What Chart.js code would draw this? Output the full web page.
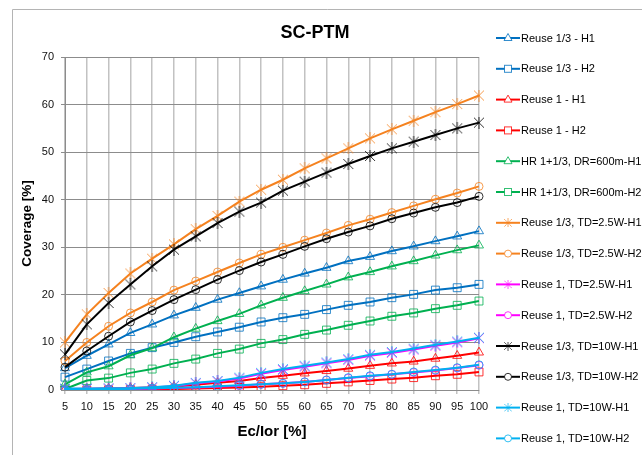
<!DOCTYPE html>
<html>
<head>
<meta charset="utf-8">
<script src="https://cdn.jsdelivr.net/npm/chart.js@4.4.0/dist/chart.umd.min.js"></script>
<style>
html, body { margin: 0; padding: 0; background: #fff; }
#wrap { width: 642px; height: 455px; }
</style>
</head>
<body>
<div id="wrap"><canvas id="myChart" width="642" height="455"></canvas></div>
<script>
// asse x: Ec/Ior [%]
const ecIor = ['5','10','15','20','25','30','35','40','45','50','55','60','65','70','75','80','85','90','95','100'];

// coverage [%]
const reuse13H1 = [4.6, 7.2, 9.6, 12.0, 13.8, 15.7, 17.3, 19.0, 20.4, 21.8, 23.2, 24.5, 25.7, 27.1, 28.0, 29.2, 30.2, 31.3, 32.3, 33.4];
const reuse13H2 = [2.7, 4.4, 6.1, 7.7, 8.9, 10.0, 11.2, 12.2, 13.2, 14.3, 15.2, 15.9, 16.9, 17.8, 18.5, 19.4, 20.1, 21.0, 21.5, 22.2];
const reuse1H1 = [0.1, 0.2, 0.3, 0.4, 0.5, 0.7, 1.1, 1.5, 1.9, 2.5, 3.0, 3.5, 4.0, 4.5, 5.1, 5.6, 6.0, 6.6, 7.2, 7.9];
const reuse1H2 = [0, 0, 0.05, 0.1, 0.15, 0.2, 0.3, 0.4, 0.55, 0.7, 0.9, 1.1, 1.4, 1.7, 2.0, 2.3, 2.6, 3.0, 3.3, 3.8];
const hrH1 = [1.2, 3.7, 5.0, 7.3, 8.8, 11.1, 12.9, 14.5, 16.0, 17.8, 19.4, 20.8, 22.2, 23.7, 24.8, 26.0, 27.1, 28.3, 29.4, 30.4];
const hrH2 = [0.2, 2.0, 2.5, 3.6, 4.4, 5.6, 6.5, 7.7, 8.6, 9.8, 10.6, 11.7, 12.6, 13.6, 14.5, 15.5, 16.2, 17.1, 17.8, 18.7];
const reuse13Td25H1 = [10.0, 15.9, 20.4, 24.5, 27.6, 30.6, 33.8, 36.6, 39.6, 42.1, 44.2, 46.6, 48.7, 50.8, 52.9, 54.8, 56.6, 58.4, 60.1, 61.9];
const reuse13Td25H2 = [6.1, 10.0, 13.4, 16.2, 18.5, 21.0, 22.9, 24.8, 26.7, 28.5, 30.0, 31.5, 33.0, 34.6, 35.9, 37.3, 38.7, 40.1, 41.4, 42.8];
const reuse1Td25H1 = [0.2, 0.25, 0.3, 0.35, 0.5, 0.8, 1.4, 1.8, 2.4, 3.4, 4.2, 4.9, 5.6, 6.3, 7.2, 7.8, 8.5, 9.3, 10.0, 10.9];
const reuse1Td25H2 = [0, 0.05, 0.1, 0.2, 0.3, 0.4, 0.5, 0.7, 0.9, 1.2, 1.4, 1.7, 2.1, 2.5, 2.9, 3.3, 3.7, 4.1, 4.6, 5.2];
const reuse13Td10H1 = [7.5, 13.8, 18.3, 22.2, 26.0, 29.5, 32.3, 35.1, 37.5, 39.4, 41.9, 43.8, 45.7, 47.5, 49.2, 50.8, 52.2, 53.6, 55.0, 56.2];
const reuse13Td10H2 = [4.8, 8.2, 11.3, 14.3, 16.7, 19.0, 21.1, 23.2, 25.1, 26.9, 28.5, 30.2, 31.8, 33.2, 34.5, 36.0, 37.2, 38.4, 39.4, 40.7];
const reuse1Td10H1 = [0.3, 0.3, 0.35, 0.4, 0.6, 0.9, 1.5, 1.9, 2.6, 3.6, 4.4, 5.1, 5.8, 6.5, 7.4, 8.0, 8.7, 9.5, 10.2, 11.0];
const reuse1Td10H2 = [0.05, 0.1, 0.15, 0.25, 0.35, 0.45, 0.6, 0.8, 1.0, 1.2, 1.4, 1.7, 2.1, 2.6, 3.0, 3.3, 3.8, 4.2, 4.7, 5.3];

const BLU = '#0070C0', ROSSO = '#FF0000', VERDE = '#00B050', ARANCIO = '#F5821F',
      MAGENTA = '#FF00FF', NERO = '#000000', CIANO = '#00B0F0';

// marker "asterisco" stile Excel (x + barra verticale)
function stella(colore, lato) {
    const c = document.createElement('canvas');
    c.width = lato; c.height = lato;
    const g = c.getContext('2d');
    g.strokeStyle = colore;
    g.globalAlpha = 0.8;
    g.lineWidth = 1;
    g.beginPath();
    g.moveTo(1, 1); g.lineTo(lato - 1, lato - 1);
    g.moveTo(lato - 1, 1); g.lineTo(1, lato - 1);
    g.moveTo(lato / 2, 0); g.lineTo(lato / 2, lato);
    g.stroke();
    return c;
}

function serie(label, data, colore, marker) {
    let stile = marker, raggio = 4;
    if (marker === 'triangle') raggio = 5.2;
    if (marker === 'rect') raggio = 5.6;
    if (marker === 'star') { stile = stella(colore, 12); raggio = 6; }
    return {
        label: label,
        data: data,
        borderColor: colore,
        borderWidth: 2,
        pointStyle: stile,
        pointRadius: raggio,
        pointBorderColor: colore + 'CC',
        pointBackgroundColor: 'rgba(0,0,0,0)',
        pointBorderWidth: 1,
        tension: 0,
        fill: false
    };
}

const datasets = [
    serie('Reuse 1/3 - H1', reuse13H1, BLU, 'triangle'),
    serie('Reuse 1/3 - H2', reuse13H2, BLU, 'rect'),
    serie('Reuse 1 - H1', reuse1H1, ROSSO, 'triangle'),
    serie('Reuse 1 - H2', reuse1H2, ROSSO, 'rect'),
    serie('HR 1+1/3, DR=600m-H1', hrH1, VERDE, 'triangle'),
    serie('HR 1+1/3, DR=600m-H2', hrH2, VERDE, 'rect'),
    serie('Reuse 1/3, TD=2.5W-H1', reuse13Td25H1, ARANCIO, 'star'),
    serie('Reuse 1/3, TD=2.5W-H2', reuse13Td25H2, ARANCIO, 'circle'),
    serie('Reuse 1, TD=2.5W-H1', reuse1Td25H1, MAGENTA, 'star'),
    serie('Reuse 1, TD=2.5W-H2', reuse1Td25H2, MAGENTA, 'circle'),
    serie('Reuse 1/3, TD=10W-H1', reuse13Td10H1, NERO, 'star'),
    serie('Reuse 1/3, TD=10W-H2', reuse13Td10H2, NERO, 'circle'),
    serie('Reuse 1, TD=10W-H1', reuse1Td10H1, CIANO, 'star'),
    serie('Reuse 1, TD=10W-H2', reuse1Td10H2, CIANO, 'circle')
];
// come in Excel: l'ultima serie sta sopra
datasets.forEach((d, i) => { d.order = datasets.length - i; });

function marcatoreLegenda(ctx, d, x, y) {
    ctx.save();
    ctx.strokeStyle = d.pointBorderColor;
    ctx.lineWidth = 1;
    const s = d.pointStyle;
    if (s instanceof HTMLCanvasElement) {
        ctx.drawImage(s, x - 4.5, y - 4.5, 9, 9);
    } else if (s === 'triangle') {
        ctx.beginPath();
        ctx.moveTo(x, y - 4.5); ctx.lineTo(x + 4, y + 2.5); ctx.lineTo(x - 4, y + 2.5); ctx.closePath();
        ctx.fillStyle = '#fff'; ctx.fill(); ctx.stroke();
    } else if (s === 'rect') {
        ctx.fillStyle = '#fff';
        ctx.fillRect(x - 3.5, y - 3.5, 7, 7);
        ctx.strokeRect(x - 3.5, y - 3.5, 7, 7);
    } else {
        ctx.beginPath(); ctx.arc(x, y, 3.5, 0, Math.PI * 2);
        ctx.fillStyle = '#fff'; ctx.fill(); ctx.stroke();
    }
    ctx.restore();
}

const cornice = {
    id: 'cornice',
    beforeDraw(chart) {
        const ctx = chart.ctx;
        ctx.save();
        ctx.fillStyle = '#fff';
        ctx.fillRect(0, 0, chart.width, chart.height);
        ctx.strokeStyle = '#b4b4b4';
        ctx.lineWidth = 1;
        ctx.beginPath();
        ctx.moveTo(12.5, chart.height + 5);
        ctx.lineTo(12.5, 9.5);
        ctx.lineTo(chart.width + 5, 9.5);
        ctx.stroke();
        ctx.restore();
    },
    afterDraw(chart) {
        const ctx = chart.ctx;
        ctx.save();
        // titolo
        ctx.fillStyle = '#000';
        ctx.font = 'bold 18px "Liberation Sans", Arial, sans-serif';
        ctx.textAlign = 'center';
        ctx.textBaseline = 'middle';
        ctx.fillText('SC-PTM', 315, 33);
        // legenda: linea + marcatore + testo
        ctx.font = '11px "Liberation Sans", Arial, sans-serif';
        ctx.textAlign = 'left';
        chart.data.datasets.forEach((d, i) => {
            const y = 38 + i * 30.8;
            ctx.strokeStyle = d.borderColor;
            ctx.lineWidth = 2;
            ctx.beginPath(); ctx.moveTo(496, y); ctx.lineTo(520, y); ctx.stroke();
            marcatoreLegenda(ctx, d, 508, y);
            ctx.fillStyle = '#000';
            ctx.fillText(d.label, 521, y + 0.5);
        });
        ctx.restore();
    }
};

const ctx = document.getElementById('myChart').getContext('2d');
new Chart(ctx, {
    type: 'line',
    data: { labels: ecIor, datasets: datasets },
    plugins: [cornice],
    options: {
        responsive: false,
        animation: false,
        devicePixelRatio: 1,
        layout: { padding: { left: 12, right: 163, top: 57, bottom: 0 } },
        plugins: {
            legend: { display: false },
            title: { display: false },
            tooltip: { enabled: false }
        },
        scales: {
            x: {
                offset: false,
                grid: { color: '#c2c2c2', lineWidth: 1.5, tickLength: 4, offset: false },
                border: { color: '#8c8c8c' },
                ticks: {
                    color: '#111', autoSkip: false, maxRotation: 0, padding: 6,
                    font: { family: '"Liberation Sans", Arial, sans-serif', size: 11 }
                },
                title: {
                    display: true, text: 'Ec/Ior [%]', color: '#000',
                    font: { family: '"Liberation Sans", Arial, sans-serif', size: 15, weight: 'bold' },
                    padding: { top: 0, bottom: 14 }
                },
                afterFit(scale) { scale.height = 65; }
            },
            y: {
                min: 0, max: 70,
                grid: { color: '#8c8c8c', lineWidth: 1, tickLength: 4 },
                border: { color: '#8c8c8c' },
                ticks: {
                    stepSize: 10, color: '#111', padding: 7,
                    font: { family: '"Liberation Sans", Arial, sans-serif', size: 11 }
                },
                title: {
                    display: true, text: 'Coverage [%]', color: '#000',
                    font: { family: '"Liberation Sans", Arial, sans-serif', size: 13.5, weight: 'bold' },
                    padding: { top: 7, bottom: 0 }
                },
                afterFit(scale) { scale.width = 53; }
            }
        }
    }
});
</script>
</body>
</html>
